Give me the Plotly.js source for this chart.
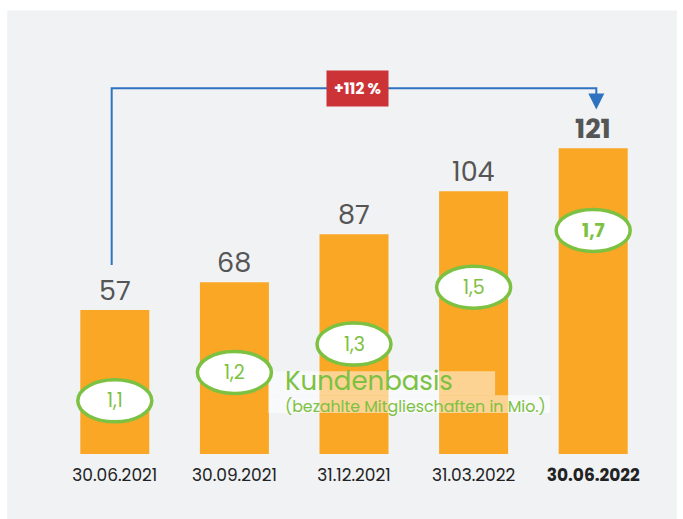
<!DOCTYPE html>
<html>
<head>
<meta charset="utf-8">
<script src="https://cdn.plot.ly/plotly-3.0.1.min.js"></script>
<style>html,body{margin:0;padding:0;background:#fff;}#chart{width:683px;height:519px;}</style>
</head>
<body>
<div id="chart"></div>
<script>
const categories = ['30.06.2021', '30.09.2021', '31.12.2021', '31.03.2022', '30.06.2022'];
const memberValues = [57, 68, 87, 104, 121];
const memberLabels = ['57', '68', '87', '104', '121'];
const customerValues = [1.1, 1.2, 1.3, 1.5, 1.7];
const customerLabels = ['1,1', '1,2', '1,3', '1,5', '1,7'];
const growthLabel = '+112 %';
const legendTitle = 'Kundenbasis';
const legendSub = '(bezahlte Mitglieschaften in Mio.)';

const FONT = 'Poppins, "Open Sans", Lato, sans-serif';
const GREEN = '#7dc142';
const BLUE = '#2f72bf';
const last = categories.length - 1;

const tickText = categories.map((c, i) => i === last ? '<b>' + c + '</b>' : c);

const bars = {
  type: 'bar',
  x: categories,
  y: memberValues,
  width: 0.577,
  marker: {color: '#f9a724', line: {width: 0}},
  hoverinfo: 'skip'
};
const customerTrace = {
  type: 'scatter', mode: 'markers',
  x: categories, y: customerValues, yaxis: 'y2',
  marker: {size: 1, opacity: 0}, hoverinfo: 'skip'
};

const annotations = [];
memberValues.forEach((v, i) => {
  annotations.push({
    x: categories[i], y: v, xref: 'x', yref: 'y',
    text: i === last ? '<b>' + memberLabels[i] + '</b>' : memberLabels[i],
    showarrow: false, yanchor: 'bottom', yshift: -1,
    font: {family: FONT, size: 27, color: '#555'}
  });
});
customerValues.forEach((v, i) => {
  annotations.push({
    x: categories[i], y: v, xref: 'x', yref: 'y2',
    text: i === last ? '<b>' + customerLabels[i] + '</b>' : customerLabels[i],
    showarrow: false, yanchor: 'middle',
    font: {family: FONT, size: 19, color: GREEN}
  });
});
// growth badge
annotations.push({
  x: 2.03, y: 144.8, xref: 'x', yref: 'y',
  text: '<b>' + growthLabel + '</b>', showarrow: false,
  bgcolor: '#cc3336', borderpad: 7,
  font: {family: FONT, size: 15.5, color: '#fff'}
});
// arrow head
annotations.push({
  x: 4.026, y: 136.3, xref: 'x', yref: 'y',
  ax: 0, ay: -16, axref: 'pixel', ayref: 'pixel',
  showarrow: true, arrowhead: 2, arrowsize: 1.6, arrowwidth: 2, arrowcolor: BLUE, text: ''
});
// caption
annotations.push({
  x: 1.41, y: 28.0, xref: 'x', yref: 'y', xanchor: 'left', yanchor: 'middle', yshift: 2,
  text: legendTitle, showarrow: false,
  font: {family: FONT, size: 26, color: GREEN}
});
annotations.push({
  x: 1.41, y: 19.4, xref: 'x', yref: 'y', xanchor: 'left', yanchor: 'middle', yshift: -2,
  text: legendSub, showarrow: false,
  font: {family: FONT, size: 15.8, color: GREEN}
});

const shapes = [
  {type: 'rect', xref: 'paper', yref: 'paper', x0: -0.080, x1: 1.04, y0: -0.172, y1: 1.17,
   fillcolor: '#f0f2f4', line: {width: 0}, layer: 'below'},
  {type: 'rect', xref: 'x', yref: 'y', x0: 1.283, x1: 3.18, y0: 23.3, y1: 32.8,
   fillcolor: 'rgba(255,255,255,0.5)', line: {width: 0}, layer: 'above'},
  {type: 'rect', xref: 'x', yref: 'y', x0: 1.283, x1: 3.64, y0: 16.2, y1: 23.3,
   fillcolor: 'rgba(255,255,255,0.5)', line: {width: 0}, layer: 'above'},
  {type: 'path', xref: 'x', yref: 'y',
   path: 'M -0.026,74.8 L -0.026,144.8 L 4.026,144.8 L 4.026,140',
   line: {color: BLUE, width: 2}, layer: 'above'}
];
customerValues.forEach((v, i) => {
  shapes.push({
    type: 'circle', xref: 'x', yref: 'y2',
    xsizemode: 'pixel', xanchor: i, x0: -37, x1: 37,
    ysizemode: 'pixel', yanchor: v, y0: -21, y1: 21,
    fillcolor: '#ffffff', line: {color: GREEN, width: 3.5}, layer: 'above'
  });
});

const layout = {
  width: 683, height: 519,
  margin: {l: 55, r: 30, t: 75, b: 65},
  paper_bgcolor: '#ffffff',
  plot_bgcolor: 'rgba(0,0,0,0)',
  showlegend: false,
  xaxis: {
    type: 'category', range: [-0.5, 4.5],
    tickmode: 'array', tickvals: categories, ticktext: tickText,
    showgrid: false, zeroline: false, showline: false, ticks: '',
    tickfont: {family: FONT, size: 17, color: '#222'}, ticklabelstandoff: 9
  },
  yaxis: {range: [0, 150], visible: false, fixedrange: true},
  yaxis2: {range: [0.913, 2.247], overlaying: 'y', visible: false},
  shapes: shapes,
  annotations: annotations
};

Plotly.newPlot('chart', [bars, customerTrace], layout, {displayModeBar: false, staticPlot: true});
</script>
</body>
</html>
